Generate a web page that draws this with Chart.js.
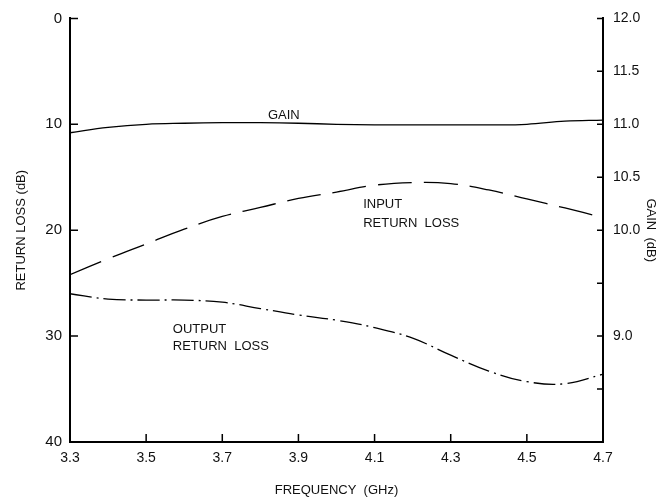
<!DOCTYPE html>
<html>
<head>
<meta charset="utf-8">
<script src="https://cdn.jsdelivr.net/npm/chart.js@4.4.0/dist/chart.umd.min.js"></script>
<style>
  html, body { margin: 0; padding: 0; background: #fff; }
</style>
</head>
<body>
<canvas id="chart" width="672" height="498"></canvas>
<script>
// frequency points (GHz)
const freqs = [3.3, 3.4, 3.5, 3.6, 3.7, 3.8, 3.9, 4.0, 4.1, 4.2, 4.3, 4.4, 4.5, 4.6, 4.7];
// gain (dB), right axis
const gain = [10.92, 10.97, 11.0, 11.01, 11.015, 11.015, 11.01, 11.0, 10.995, 10.995, 10.995, 10.995, 11.0, 11.03, 11.04];
// return loss (dB), left axis
const inputLoss = [24.2, 22.7, 21.3, 19.9, 18.7, 17.85, 17.0, 16.4, 15.75, 15.5, 15.6, 16.2, 17.05, 17.9, 18.8];
const outputLoss = [26.0, 26.5, 26.6, 26.6, 26.8, 27.4, 28.0, 28.5, 29.2, 30.2, 31.8, 33.3, 34.3, 34.5, 33.6];

const gainLabels = [12.0, 11.5, 11.0, 10.5, 10.0, 9.0];

// curve captions, in data units of the left axis
const notes = [
  { text: 'GAIN', x: 3.82, y: 9.2 },
  { text: 'INPUT', x: 4.07, y: 17.6 },
  { text: 'RETURN  LOSS', x: 4.07, y: 19.4 },
  { text: 'OUTPUT', x: 3.57, y: 29.4 },
  { text: 'RETURN  LOSS', x: 3.57, y: 31.0 }
];

const FONT = 'Liberation Sans, Arial, sans-serif';
const pts = vals => freqs.map((f, i) => ({ x: f, y: vals[i] }));

// tick marks pointing into the plot, like the original drawing
const inwardTicks = {
  id: 'inwardTicks',
  afterDraw(chart) {
    const { ctx } = chart;
    const { x, y, y2 } = chart.scales;
    ctx.save();
    ctx.strokeStyle = '#000';
    ctx.lineWidth = 1.5;
    ctx.beginPath();
    y.ticks.forEach(t => {
      if (t.value >= 40) return;
      const py = y.getPixelForValue(t.value);
      ctx.moveTo(y.right, py);
      ctx.lineTo(y.right + 8, py);
    });
    y2.ticks.forEach(t => {
      if (t.value <= 8) return;
      const py = y2.getPixelForValue(t.value);
      ctx.moveTo(y2.left, py);
      ctx.lineTo(y2.left - 6, py);
    });
    x.ticks.forEach(t => {
      if (t.value <= 3.3 || t.value >= 4.7) return;
      const px = x.getPixelForValue(t.value);
      ctx.moveTo(px, x.top);
      ctx.lineTo(px, x.top - 8);
    });
    ctx.stroke();
    ctx.restore();
  }
};

const captions = {
  id: 'captions',
  afterDraw(chart) {
    const { ctx } = chart;
    const { x, y } = chart.scales;
    ctx.save();
    ctx.fillStyle = '#111';
    ctx.font = '13px ' + FONT;
    ctx.textAlign = 'left';
    ctx.textBaseline = 'middle';
    notes.forEach(n => ctx.fillText(n.text, x.getPixelForValue(n.x), y.getPixelForValue(n.y)));
    ctx.restore();
  }
};

new Chart(document.getElementById('chart'), {
  type: 'line',
  data: {
    datasets: [
      {
        label: 'GAIN',
        data: pts(gain),
        yAxisID: 'y2',
        borderColor: '#000',
        borderWidth: 1.3,
        pointRadius: 0,
        tension: 0.4
      },
      {
        label: 'INPUT RETURN LOSS',
        data: pts(inputLoss),
        yAxisID: 'y',
        borderColor: '#000',
        borderWidth: 1.3,
        borderDash: [34, 12],
        pointRadius: 0,
        tension: 0.4
      },
      {
        label: 'OUTPUT RETURN LOSS',
        data: pts(outputLoss),
        yAxisID: 'y',
        borderColor: '#000',
        borderWidth: 1.3,
        borderDash: [22, 5, 2, 5],
        pointRadius: 0,
        tension: 0.4
      }
    ]
  },
  options: {
    responsive: false,
    animation: false,
    layout: { padding: { top: 15, left: 0, right: 0, bottom: 0 } },
    plugins: { legend: { display: false }, tooltip: { enabled: false } },
    scales: {
      x: {
        type: 'linear',
        min: 3.3,
        max: 4.7,
        grid: { display: false, drawTicks: false },
        border: { display: true, color: '#000', width: 2 },
        ticks: {
          stepSize: 0.2,
          padding: 8,
          color: '#111',
          font: { family: FONT, size: 14 },
          callback: v => v.toFixed(1)
        },
        title: {
          display: true,
          text: 'FREQUENCY  (GHz)',
          color: '#111',
          font: { family: FONT, size: 13 },
          padding: { top: 4, bottom: 0 }
        },
        afterFit: s => { s.height = 56; }
      },
      y: {
        position: 'left',
        reverse: true,
        min: 0,
        max: 40,
        grid: { display: false, drawTicks: false },
        border: { display: true, color: '#000', width: 2 },
        ticks: {
          stepSize: 10,
          padding: 8,
          color: '#111',
          font: { family: FONT, size: 15 }
        },
        title: {
          display: true,
          text: 'RETURN LOSS (dB)',
          color: '#111',
          font: { family: FONT, size: 13 },
          padding: { top: 14, bottom: 0 }
        },
        afterFit: s => { s.width = 70; }
      },
      y2: {
        position: 'right',
        min: 8,
        max: 12,
        grid: { display: false, drawTicks: false },
        border: { display: true, color: '#000', width: 2 },
        ticks: {
          stepSize: 0.5,
          padding: 10,
          color: '#111',
          font: { family: FONT, size: 14 },
          callback: v => gainLabels.includes(v) ? v.toFixed(1) : ''
        },
        title: {
          display: true,
          text: 'GAIN  (dB)',
          color: '#111',
          font: { family: FONT, size: 13 },
          padding: { top: 14, bottom: 0 }
        },
        afterFit: s => { s.width = 69; }
      }
    }
  },
  plugins: [inwardTicks, captions]
});
</script>
</body>
</html>
